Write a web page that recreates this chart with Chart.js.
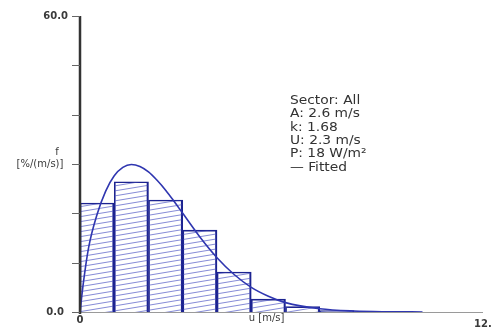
<!DOCTYPE html>
<html lang="en">
<head>
    <meta charset="UTF-8">
    <title>Weibull distribution</title>
    <script src="https://cdn.jsdelivr.net/npm/chart.js"></script>
    <style>
        html, body { margin: 0; padding: 0; background: #fff; }
        #wrap { width: 491px; height: 329px; position: relative; }
    </style>
</head>
<body>
    <div id="wrap"><canvas id="weibull-chart"></canvas></div>

    <script>
        // measured histogram: bin centres [m/s] and frequency [%/(m/s)]
        const binCenters = [0.5, 1.5, 2.5, 3.5, 4.5, 5.5, 6.5, 7.5, 8.5];
        const binFreq = [22.1, 26.4, 22.7, 16.6, 8.1, 2.6, 1.1, 0.3, 0.1];

        // fitted curve
        const fitU = [0, 0.1, 0.25, 0.5, 0.75, 1, 1.25, 1.5, 1.75, 2, 2.25, 2.5, 2.75, 3, 3.5, 4, 4.5, 5, 5.5, 6, 7, 8, 9, 10];
        const fitF = [0, 6, 13, 19.8, 24.5, 27.6, 29.3, 29.9, 29.5, 28.4, 26.7, 24.7, 22.4, 20.0, 15.2, 11.0, 7.6, 5.0, 3.2, 1.9, 0.65, 0.19, 0.05, 0.01];

        const yTicks = [0, 10, 20, 30, 40, 50, 60];
        const infoLines = ['Sector: All', 'A: 2.6 m/s', 'k: 1.68', 'U: 2.3 m/s', 'P: 18 W/m²', '— Fitted'];

        const navy = '#1c2390';
        const textColor = '#3a3a3a';

        // diagonal hatch used for the bars
        function makeHatch() {
            const c = document.createElement('canvas');
            const w = 30, h = 5;
            c.width = w;
            c.height = h;
            const g = c.getContext('2d');
            g.strokeStyle = '#5059c4';
            g.lineWidth = 0.7;
            [-h, 0, h].forEach(off => {
                g.beginPath();
                g.moveTo(0, h + off);
                g.lineTo(w, off);
                g.stroke();
            });
            return g.createPattern(c, 'repeat');
        }

        const axesPlugin = {
            id: 'axesPlugin',
            afterDatasetsDraw(chart) {
                const ctx = chart.ctx;
                const xs = chart.scales.x;
                const ys = chart.scales.y;
                const x0 = xs.getPixelForValue(0);
                const y0 = ys.getPixelForValue(0);
                ctx.save();

                // x axis line
                ctx.strokeStyle = '#9a9a9a';
                ctx.lineWidth = 1;
                ctx.beginPath();
                ctx.moveTo(x0 - 8, y0 + 0.5);
                ctx.lineTo(chart.chartArea.right - 8, y0 + 0.5);
                ctx.stroke();

                // y axis line + ticks
                ctx.strokeStyle = '#333';
                ctx.lineWidth = 2.5;
                ctx.beginPath();
                ctx.moveTo(x0, ys.getPixelForValue(60));
                ctx.lineTo(x0, y0 + 2);
                ctx.stroke();
                ctx.lineWidth = 1;
                ctx.strokeStyle = '#666';
                yTicks.forEach(t => {
                    const py = Math.round(ys.getPixelForValue(t)) + 0.5;
                    ctx.beginPath();
                    ctx.moveTo(x0 - 8, py);
                    ctx.lineTo(x0, py);
                    ctx.stroke();
                });

                ctx.fillStyle = textColor;
                ctx.font = 'bold 10px "DejaVu Sans"';
                ctx.textBaseline = 'middle';
                ctx.textAlign = 'right';
                ctx.fillText('60.0', x0 - 12, ys.getPixelForValue(60));
                ctx.fillText('0.0', x0 - 16, y0);
                ctx.font = '10px "DejaVu Sans"';
                ctx.textAlign = 'center';
                ctx.fillText('f', x0 - 23, ys.getPixelForValue(32.3));
                ctx.fillText('[%/(m/s)]', x0 - 40, ys.getPixelForValue(30));

                ctx.font = 'bold 10px "DejaVu Sans"';
                ctx.fillText('0', x0, y0 + 8);
                ctx.font = '10px "DejaVu Sans"';
                ctx.fillText('u [m/s]', xs.getPixelForValue(5.45), y0 + 6);
                ctx.font = 'bold 10px "DejaVu Sans"';
                ctx.textAlign = 'left';
                ctx.fillText('12.0', xs.getPixelForValue(12) - 17, y0 + 12);

                // info block, slightly wide lettering like the original
                ctx.font = '12px "DejaVu Sans"';
                ctx.fillStyle = '#333';
                ctx.textAlign = 'left';
                infoLines.forEach((line, i) => {
                    ctx.save();
                    ctx.translate(290, 101 + i * 13.3);
                    ctx.scale(1.15, 1);
                    ctx.fillText(line, 0, 0);
                    ctx.restore();
                });
                ctx.restore();
            }
        };

        const ctx = document.getElementById('weibull-chart').getContext('2d');
        const chart = new Chart(ctx, {
            data: {
                datasets: [{
                    type: 'line',
                    data: fitU.map((u, i) => ({ x: u, y: fitF[i] })),
                    borderColor: '#2f36b0',
                    borderWidth: 1.6,
                    pointRadius: 0,
                    fill: false,
                    cubicInterpolationMode: 'monotone',
                    order: 0
                }, {
                    type: 'bar',
                    data: binCenters.map((c, i) => ({ x: c, y: binFreq[i] })),
                    backgroundColor: makeHatch(),
                    borderColor: navy,
                    borderWidth: { left: 1, right: 1.5, top: 1, bottom: 0 },
                    borderSkipped: false,
                    barPercentage: 1,
                    categoryPercentage: 1,
                    order: 1
                }]
            },
            options: {
                responsive: true,
                maintainAspectRatio: false,
                animation: false,
                layout: { padding: { left: 80, right: 0, top: 16, bottom: 17 } },
                plugins: {
                    legend: { display: false },
                    tooltip: { enabled: false }
                },
                scales: {
                    x: { type: 'linear', min: 0, max: 12, display: false, offset: false },
                    y: { min: 0, max: 60, display: false }
                }
            },
            plugins: [axesPlugin]
        });
    </script>
</body>
</html>
